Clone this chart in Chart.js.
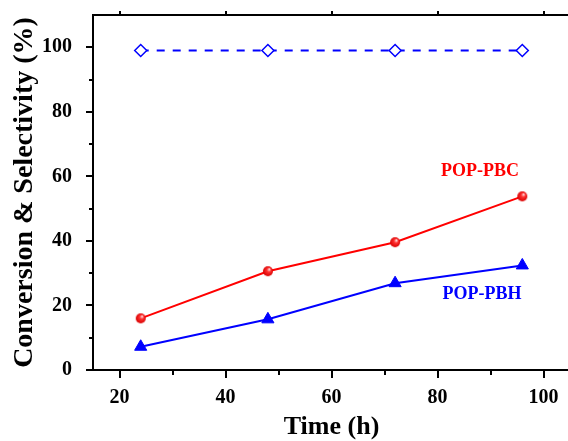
<!DOCTYPE html>
<html>
<head>
<meta charset="utf-8">
<script src="https://cdn.jsdelivr.net/npm/chart.js@4"></script>
<style>
  html, body { margin: 0; padding: 0; background: #fff; overflow: hidden; }
  #frame { width: 568px; height: 441px; overflow: hidden; position: relative; }
  #holder { position: absolute; left: 0; top: 0; width: 578px; height: 441px; }
</style>
</head>
<body>
<div id="frame"><div id="holder"><canvas id="chart" width="578" height="441"></canvas></div></div>
<script>
// data
const hours = [24, 48, 72, 96];
const selectivity = [99, 99, 99, 99];
const convPBC = [16.0, 30.6, 39.6, 53.8];
const convPBH = [7.2, 15.7, 26.9, 32.4];
const xTicks = [20, 40, 60, 80, 100];
const yTicks = [0, 20, 40, 60, 80, 100];

const serif = 'Liberation Serif, Times New Roman, serif';

// little shaded ball for the red markers
function makeBall(r) {
    const c = document.createElement('canvas');
    c.width = c.height = 2 * r + 2;
    const g = c.getContext('2d');
    const grad = g.createRadialGradient(r + 2.5, r - 1, 0.5, r + 1, r + 1, r);
    grad.addColorStop(0, '#ffd0d0');
    grad.addColorStop(0.35, '#ff3030');
    grad.addColorStop(1, '#d80000');
    g.fillStyle = grad;
    g.beginPath();
    g.arc(r + 1, r + 1, r, 0, Math.PI * 2);
    g.fill();
    return c;
}

function pairs(ys) {
    return hours.map((h, i) => ({ x: h, y: ys[i] }));
}

// fixed box sizes so the plot area sits where it does in the figure
function fixSize(w, h) {
    return s => {
        if (w != null) s.width = w;
        if (h != null) s.height = h;
        s.paddingTop = s.paddingBottom = s.paddingLeft = s.paddingRight = 0;
    };
}

const seriesLabels = [
    { text: 'POP-PBC', x: 88, y: 61.5, color: '#ff0000' },
    { text: 'POP-PBH', x: 88.4, y: 23.3, color: '#0000ff' }
];

const tickMarks = {
    id: 'tickMarks',
    afterDraw(chart) {
        const { ctx, chartArea: a, scales: { x, y } } = chart;
        ctx.save();
        ctx.strokeStyle = '#000';
        ctx.lineWidth = 2;
        ctx.beginPath();
        for (let v = 20; v <= 100; v += 10) {
            const px = Math.round(x.getPixelForValue(v));
            const major = v % 20 === 0;
            ctx.moveTo(px, a.bottom);
            ctx.lineTo(px, a.bottom + (major ? 8 : 5));
            if (major) {
                ctx.moveTo(px, a.top);
                ctx.lineTo(px, a.top - 4);
            }
        }
        for (let v = 0; v <= 100; v += 10) {
            const py = Math.round(y.getPixelForValue(v));
            ctx.moveTo(a.left, py);
            ctx.lineTo(a.left - (v % 20 === 0 ? 7 : 4), py);
        }
        ctx.stroke();

        ctx.font = 'bold 18px ' + serif;
        ctx.textAlign = 'center';
        ctx.textBaseline = 'middle';
        seriesLabels.forEach(l => {
            ctx.fillStyle = l.color;
            ctx.fillText(l.text, x.getPixelForValue(l.x), y.getPixelForValue(l.y));
        });
        ctx.restore();
    }
};

new Chart(document.getElementById('chart'), {
    type: 'line',
    data: {
        datasets: [
            {
                label: 'Selectivity',
                data: pairs(selectivity),
                borderColor: '#0000ff',
                borderWidth: 2,
                borderDash: [8, 8],
                pointStyle: 'rectRot',
                pointRadius: 6,
                pointBackgroundColor: '#fff',
                pointBorderColor: '#0000ff',
                pointBorderWidth: 1.5
            },
            {
                label: 'POP-PBC',
                data: pairs(convPBC),
                borderColor: '#ff0000',
                borderWidth: 2,
                pointStyle: makeBall(5)
            },
            {
                label: 'POP-PBH',
                data: pairs(convPBH),
                borderColor: '#0000ff',
                borderWidth: 2,
                pointStyle: 'triangle',
                pointRadius: 7,
                pointBackgroundColor: '#0000ff',
                pointBorderColor: '#0000ff',
                pointBorderWidth: 1
            }
        ]
    },
    options: {
        responsive: false,
        animation: false,
        layout: { padding: { right: 2 } },
        plugins: {
            legend: { display: false },
            tooltip: { enabled: false }
        },
        scales: {
            x: {
                type: 'linear',
                position: 'bottom',
                min: 15,
                max: 105,
                afterBuildTicks: s => { s.ticks = xTicks.map(v => ({ value: v })); },
                afterFit: fixSize(null, 71),
                grid: { display: false },
                border: { display: true, color: '#000', width: 2 },
                ticks: {
                    color: '#000',
                    padding: 8,
                    maxRotation: 0,
                    font: { family: serif, size: 20, weight: 'bold' }
                },
                title: {
                    display: true,
                    text: 'Time (h)',
                    color: '#000',
                    padding: { top: 0, bottom: 1 },
                    font: { family: serif, size: 26, weight: 'bold', lineHeight: 1 }
                }
            },
            x2: {
                type: 'linear',
                position: 'top',
                min: 15,
                max: 105,
                afterFit: fixSize(null, 15),
                grid: { display: false },
                border: { display: true, color: '#000', width: 2 },
                ticks: { display: false }
            },
            y: {
                min: 0,
                max: 110,
                afterBuildTicks: s => { s.ticks = yTicks.map(v => ({ value: v })); },
                afterFit: fixSize(93, null),
                grid: { display: false },
                border: { display: true, color: '#000', width: 2 },
                ticks: {
                    color: '#000',
                    padding: 13,
                    font: { family: serif, size: 20, weight: 'bold' }
                },
                title: {
                    display: true,
                    text: 'Conversion & Selectivity (%)',
                    color: '#000',
                    padding: { top: 11, bottom: 0 },
                    font: { family: serif, size: 28, weight: 'bold', lineHeight: 1 }
                }
            }
        }
    },
    plugins: [tickMarks]
});
</script>
</body>
</html>
